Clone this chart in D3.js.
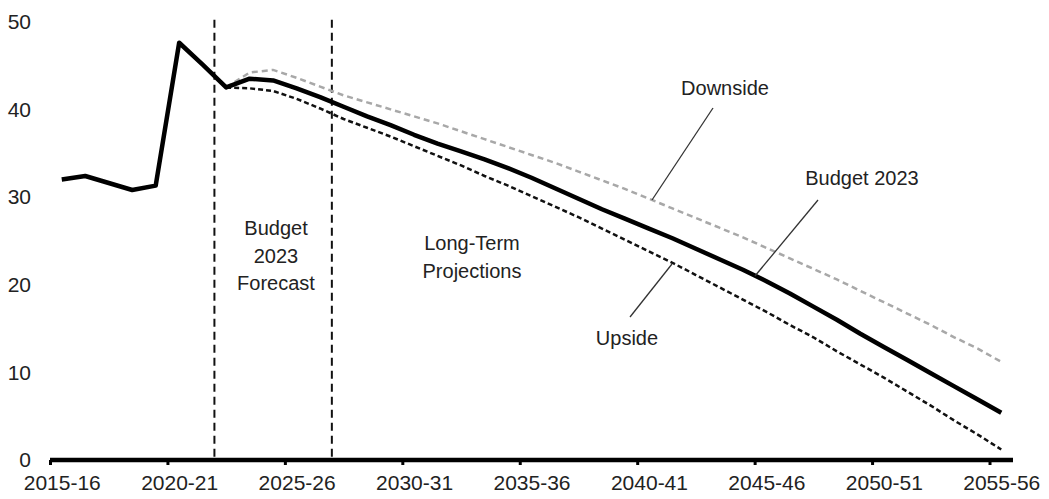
<!DOCTYPE html>
<html>
<head>
<meta charset="utf-8">
<script src="https://cdn.jsdelivr.net/npm/d3@7"></script>
<style>
  html, body { margin: 0; padding: 0; background: #fff; }
  svg { display: block; }
  text { font-family: "Liberation Sans", Arial, sans-serif; fill: #222; }
</style>
</head>
<body>
<svg id="chart" width="1049" height="499"></svg>
<script>
const categories = ["2015-16","2016-17","2017-18","2018-19","2019-20","2020-21","2021-22","2022-23","2023-24","2024-25",
  "2025-26","2026-27","2027-28","2028-29","2029-30","2030-31","2031-32","2032-33","2033-34","2034-35",
  "2035-36","2036-37","2037-38","2038-39","2039-40","2040-41","2041-42","2042-43","2043-44","2044-45",
  "2045-46","2046-47","2047-48","2048-49","2049-50","2050-51","2051-52","2052-53","2053-54","2054-55","2055-56"];

const budget2023 = [32.0,32.4,31.6,30.8,31.3,47.6,45.1,42.5,43.5,43.3,
  42.4,41.4,40.3,39.2,38.2,37.1,36.1,35.2,34.3,33.3,
  32.2,31.0,29.8,28.6,27.5,26.4,25.3,24.1,22.9,21.7,
  20.4,19.0,17.5,16.0,14.4,12.9,11.4,9.9,8.4,6.9,5.4];

const downside = [null,null,null,null,null,null,null,42.5,44.2,44.5,
  43.6,42.6,41.6,40.8,40.0,39.2,38.4,37.5,36.6,35.7,
  34.8,33.9,32.9,31.9,30.9,29.8,28.7,27.6,26.5,25.4,
  24.2,23.0,21.8,20.6,19.3,18.0,16.7,15.4,14.0,12.7,11.2];

const upside = [null,null,null,null,null,null,null,42.5,42.4,42.1,
  41.2,40.1,38.9,37.9,36.9,35.8,34.7,33.6,32.4,31.3,
  30.1,28.9,27.7,26.4,25.1,23.8,22.5,21.1,19.7,18.3,
  16.9,15.4,14.0,12.4,10.9,9.4,7.8,6.2,4.5,2.9,1.2];

const yTicks = [0,10,20,30,40,50];
const xTickLabels = ["2015-16","2020-21","2025-26","2030-31","2035-36","2040-41","2045-46","2050-51","2055-56"];
const periodBoundaries = ["2022-23","2027-28"];

const svg = d3.select("#chart");

const x = d3.scaleLinear().domain([0, categories.length]).range([50, 1013]);
const y = d3.scaleLinear().domain([0, 50]).range([460, 21.7]);
const halfBand = (x(1) - x(0)) / 2;

// Y tick labels (no axis line)
svg.append("g").selectAll("text").data(yTicks).join("text")
  .attr("x", 31).attr("y", d => y(d)).attr("dy", "0.35em")
  .attr("text-anchor", "end").style("font-size", "21px").text(d => d);

// Vertical dashed separators
svg.append("g").selectAll("line").data(periodBoundaries).join("line")
  .attr("x1", d => x(categories.indexOf(d))).attr("x2", d => x(categories.indexOf(d)))
  .attr("y1", y(50) - 2).attr("y2", y(0))
  .attr("stroke", "#111").attr("stroke-width", 2).attr("stroke-dasharray", "8,5");

// Lines
const line = d3.line()
  .defined(d => d != null)
  .x((d, i) => x(i + 0.5))
  .y(d => y(d));

svg.append("path").datum(downside).attr("d", line)
  .attr("fill", "none").attr("stroke", "#a8a8a8").attr("stroke-width", 2.5)
  .attr("stroke-dasharray", "6,4");
svg.append("path").datum(upside).attr("d", line)
  .attr("fill", "none").attr("stroke", "#111").attr("stroke-width", 2.5)
  .attr("stroke-dasharray", "5,3");
svg.append("path").datum(budget2023).attr("d", line)
  .attr("fill", "none").attr("stroke", "#000").attr("stroke-width", 4.5)
  .attr("stroke-linejoin", "round");

// X axis: ticks at category boundaries, labels centred on the category
const xAxis = d3.axisBottom(x)
  .tickValues(xTickLabels.map(l => categories.indexOf(l)))
  .tickFormat(i => categories[i])
  .tickSize(5).tickPadding(10);
const gx = svg.append("g").attr("transform", `translate(0,${y(0)})`).call(xAxis);
gx.select(".domain").attr("stroke", "#000").attr("stroke-width", 4.5).attr("d", `M${x(0)},0H${x(categories.length)}`);
gx.selectAll(".tick line").attr("stroke", "#000").attr("stroke-width", 3);
gx.selectAll(".tick text").attr("x", halfBand).style("font-size", "21px")
  .style("font-family", "Liberation Sans, Arial, sans-serif").attr("fill", "#222");

// Region labels
const regionLabels = [
  { lines: ["Budget", "2023", "Forecast"], x: 276, y: 228 },
  { lines: ["Long-Term", "Projections"], x: 472, y: 243 }
];
regionLabels.forEach(r => {
  const t = svg.append("text").attr("text-anchor", "middle").style("font-size", "20px");
  r.lines.forEach((l, k) => t.append("tspan").attr("x", r.x).attr("y", r.y + k * 27.5).attr("dy", "0.35em").text(l));
});

// Series annotations with leader lines
const annotations = [
  { text: "Downside", tx: 725, ty: 88, x1: 713, y1: 108, x2: 652, y2: 200 },
  { text: "Budget 2023", tx: 862, ty: 178, x1: 818, y1: 200, x2: 755, y2: 276 },
  { text: "Upside", tx: 627, ty: 338, x1: 630, y1: 317, x2: 672, y2: 264 }
];
annotations.forEach(a => {
  svg.append("line").attr("x1", a.x1).attr("y1", a.y1).attr("x2", a.x2).attr("y2", a.y2)
    .attr("stroke", "#333").attr("stroke-width", 1.3);
  svg.append("text").attr("x", a.tx).attr("y", a.ty).attr("dy", "0.35em")
    .attr("text-anchor", "middle").style("font-size", "20px").text(a.text);
});
</script>
</body>
</html>
